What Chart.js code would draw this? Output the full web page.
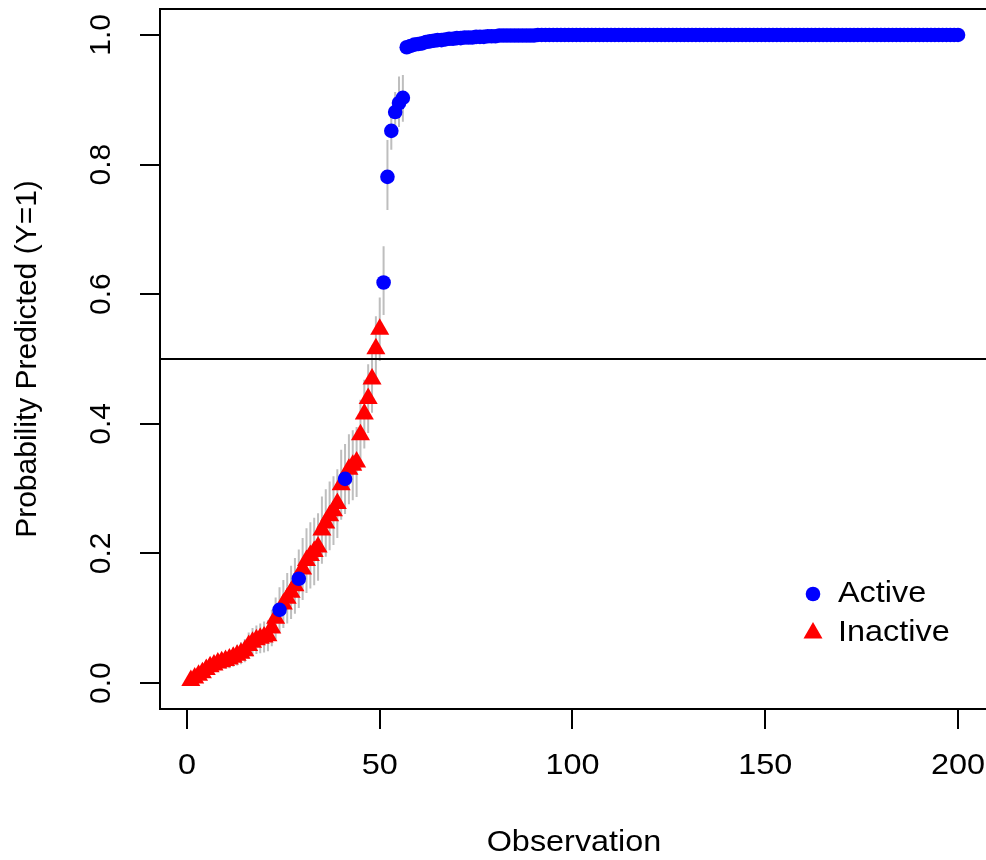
<!DOCTYPE html>
<html>
<head>
<meta charset="utf-8">
<script src="https://cdn.jsdelivr.net/npm/chart.js@4.4.1/dist/chart.umd.min.js"></script>
<style>
  body { margin: 0; background: #fff; }
  #wrap { width: 986px; height: 860px; }
</style>
</head>
<body>
<div id="wrap"><canvas id="chart" width="986" height="860"></canvas></div>
<script>
// predicted probability per observation (sorted), obs 1..200
const prob = [
  0.004, 0.008, 0.012, 0.016, 0.021, 0.025, 0.028, 0.031, 0.033, 0.035,
  0.037, 0.040, 0.043, 0.046, 0.050, 0.058, 0.063, 0.067, 0.069, 0.071,
  0.073, 0.085, 0.100, 0.113, 0.122, 0.131, 0.140, 0.150, 0.161, 0.176,
  0.189, 0.197, 0.203, 0.210, 0.236, 0.247, 0.258, 0.266, 0.277, 0.306,
  0.315, 0.330, 0.336, 0.341, 0.383, 0.415, 0.439, 0.469, 0.516, 0.546,
  0.618, 0.781, 0.852, 0.881, 0.895, 0.903, 0.981, 0.983, 0.985, 0.986,
  0.987, 0.989, 0.990, 0.991, 0.992, 0.992, 0.993, 0.994, 0.994, 0.995,
  0.995, 0.996, 0.996, 0.996, 0.997, 0.997, 0.997, 0.998, 0.998, 0.998,
  0.999, 0.999, 0.999, 0.999, 0.999, 0.999, 0.999, 0.999, 0.999, 0.999,
  1.000, 1.000, 1.000, 1.000, 1.000, 1.000, 1.000, 1.000, 1.000, 1.000,
  1.000, 1.000, 1.000, 1.000, 1.000, 1.000, 1.000, 1.000, 1.000, 1.000,
  1.000, 1.000, 1.000, 1.000, 1.000, 1.000, 1.000, 1.000, 1.000, 1.000,
  1.000, 1.000, 1.000, 1.000, 1.000, 1.000, 1.000, 1.000, 1.000, 1.000,
  1.000, 1.000, 1.000, 1.000, 1.000, 1.000, 1.000, 1.000, 1.000, 1.000,
  1.000, 1.000, 1.000, 1.000, 1.000, 1.000, 1.000, 1.000, 1.000, 1.000,
  1.000, 1.000, 1.000, 1.000, 1.000, 1.000, 1.000, 1.000, 1.000, 1.000,
  1.000, 1.000, 1.000, 1.000, 1.000, 1.000, 1.000, 1.000, 1.000, 1.000,
  1.000, 1.000, 1.000, 1.000, 1.000, 1.000, 1.000, 1.000, 1.000, 1.000,
  1.000, 1.000, 1.000, 1.000, 1.000, 1.000, 1.000, 1.000, 1.000, 1.000,
  1.000, 1.000, 1.000, 1.000, 1.000, 1.000, 1.000, 1.000, 1.000, 1.000
];

// observations that are Inactive (Y=0); all others are Active
const inactiveObs = [
  1, 2, 3, 4, 5, 6, 7, 8, 9, 10, 11, 12, 13, 14, 15, 16, 17, 18, 19, 20,
  21, 22, 23, 25, 26, 27, 28, 30, 31, 32, 33, 34, 35, 36, 37, 38, 39, 40,
  42, 43, 44, 45, 46, 47, 48, 49, 50
];

// interval bounds for obs 1..60 (later ones are hidden under the dots)
const ciLow = [
  0.001, 0.003, 0.006, 0.009, 0.012, 0.015, 0.017, 0.019, 0.021, 0.022,
  0.023, 0.025, 0.027, 0.029, 0.032, 0.038, 0.041, 0.045, 0.046, 0.047,
  0.049, 0.057, 0.068, 0.078, 0.085, 0.092, 0.099, 0.107, 0.116, 0.128,
  0.139, 0.146, 0.151, 0.158, 0.184, 0.195, 0.205, 0.213, 0.224, 0.252,
  0.261, 0.276, 0.282, 0.287, 0.329, 0.362, 0.386, 0.417, 0.466, 0.497,
  0.568, 0.730, 0.823, 0.845, 0.858, 0.866, 0.972, 0.977, 0.980, 0.983
];
const ciHigh = [
  0.008, 0.013, 0.018, 0.023, 0.030, 0.035, 0.039, 0.043, 0.045, 0.048,
  0.051, 0.055, 0.059, 0.063, 0.068, 0.078, 0.085, 0.089, 0.092, 0.095,
  0.097, 0.113, 0.132, 0.148, 0.159, 0.170, 0.181, 0.193, 0.206, 0.224,
  0.239, 0.248, 0.255, 0.262, 0.288, 0.299, 0.311, 0.319, 0.330, 0.360,
  0.369, 0.384, 0.390, 0.395, 0.437, 0.468, 0.492, 0.521, 0.566, 0.595,
  0.674, 0.838, 0.878, 0.912, 0.936, 0.938, 0.988, 0.990, 0.991, 0.992
];

const cutoff = 0.5;
const xTicks = [0, 50, 100, 150, 200];
const yTicks = [0, 0.2, 0.4, 0.6, 0.8, 1.0];
const legendLabels = ['Active', 'Inactive'];

const FONT = 'Liberation Sans, Arial, Helvetica, sans-serif';

let activePts = [], inactivePts = [];
for (let i = 0; i < prob.length; i++) {
  const obs = i + 1;
  if (inactiveObs.includes(obs)) inactivePts.push({x: obs, y: prob[i]});
  else activePts.push({x: obs, y: prob[i]});
}
let barPts = [];
for (let i = 0; i < ciLow.length; i++) {
  barPts.push({x: i + 1, y: ciLow[i]});
  barPts.push({x: i + 1, y: ciHigh[i]});
  barPts.push({x: i + 1, y: null});
}

const X_MIN = -7.0, X_MAX = 207.26;

// horizontal text is a bit wider in the reference
function wideText(ctx, txt, x, y, align) {
  ctx.save();
  ctx.translate(x, y);
  ctx.scale(1.08, 1);
  ctx.textAlign = align;
  ctx.fillText(txt, 0, 0);
  ctx.restore();
}

// box, tick labels, axis titles and legend
const decor = {
  id: 'decor',
  afterDraw(chart) {
    const ctx = chart.ctx, a = chart.chartArea;
    const xs = chart.scales.x, ys = chart.scales.y;
    ctx.save();
    ctx.strokeStyle = '#000';
    ctx.lineWidth = 2;
    ctx.beginPath();
    ctx.moveTo(a.right + 5, a.top);
    ctx.lineTo(a.left, a.top);
    ctx.lineTo(a.left, a.bottom);
    ctx.lineTo(a.right + 5, a.bottom);
    ctx.stroke();

    ctx.fillStyle = '#000';
    ctx.font = '30px ' + FONT;
    ctx.textBaseline = 'middle';
    xTicks.forEach(v => wideText(ctx, String(v), xs.getPixelForValue(v), 766, 'center'));
    ctx.textAlign = 'center';
    yTicks.forEach(v => {
      const py = ys.getPixelForValue(v);
      ctx.save();
      ctx.translate(102, py);
      ctx.rotate(-Math.PI / 2);
      ctx.fillText(v.toFixed(1), 0, 0);
      ctx.restore();
    });

    wideText(ctx, 'Observation', 574, 843, 'center');
    ctx.save();
    ctx.translate(28, (a.top + a.bottom) / 2);
    ctx.rotate(-Math.PI / 2);
    ctx.textAlign = 'center';
    ctx.fillText('Probability Predicted (Y=1)', 0, 0);
    ctx.restore();

    // legend
    ctx.fillStyle = '#0000FF';
    ctx.beginPath();
    ctx.arc(813, 594, 7.3, 0, Math.PI * 2);
    ctx.fill();
    ctx.fillStyle = '#FF0000';
    ctx.beginPath();
    ctx.moveTo(813, 622);
    ctx.lineTo(822.5, 638.5);
    ctx.lineTo(803.5, 638.5);
    ctx.closePath();
    ctx.fill();
    ctx.fillStyle = '#000';
    wideText(ctx, legendLabels[0], 838, 594, 'left');
    wideText(ctx, legendLabels[1], 838, 633, 'left');
    ctx.restore();
  }
};

new Chart(document.getElementById('chart'), {
  type: 'scatter',
  data: {
    datasets: [
      {
        label: 'cutoff',
        data: [{x: X_MIN, y: cutoff}, {x: X_MAX, y: cutoff}],
        showLine: true, borderColor: '#000', borderWidth: 2,
        pointRadius: 0, order: 0
      },
      {
        label: legendLabels[0], data: activePts,
        pointStyle: 'circle', pointRadius: 7.3,
        backgroundColor: '#0000FF', borderColor: '#0000FF', borderWidth: 0,
        order: 1
      },
      {
        label: legendLabels[1], data: inactivePts,
        pointStyle: 'triangle', pointRadius: 11,
        backgroundColor: '#FF0000', borderColor: '#FF0000', borderWidth: 0,
        order: 2
      },
      {
        label: 'interval', data: barPts,
        showLine: true, spanGaps: false, borderColor: '#BEBEBE', borderWidth: 2,
        pointRadius: 0, order: 3
      }
    ]
  },
  options: {
    responsive: false,
    animation: false,
    devicePixelRatio: 1,
    layout: { autoPadding: false, padding: { top: 9, right: 0, left: 0, bottom: 0 } },
    plugins: { legend: { display: false }, tooltip: { enabled: false } },
    scales: {
      x: {
        type: 'linear', min: X_MIN, max: X_MAX,
        afterFit: s => { s.height = 151; s.paddingLeft = 0; s.paddingRight = 0; },
        afterBuildTicks: s => { s.ticks = xTicks.map(v => ({value: v})); },
        grid: { drawOnChartArea: false, drawTicks: true, tickLength: 20, color: '#000', lineWidth: 2 },
        border: { display: false },
        ticks: { display: false }
      },
      y: {
        type: 'linear', min: -0.04, max: 1.04,
        afterFit: s => { s.width = 160; },
        afterBuildTicks: s => { s.ticks = yTicks.map(v => ({value: v})); },
        grid: { drawOnChartArea: false, drawTicks: true, tickLength: 20, color: '#000', lineWidth: 2 },
        border: { display: false },
        ticks: { display: false }
      }
    }
  },
  plugins: [decor]
});
</script>
</body>
</html>
